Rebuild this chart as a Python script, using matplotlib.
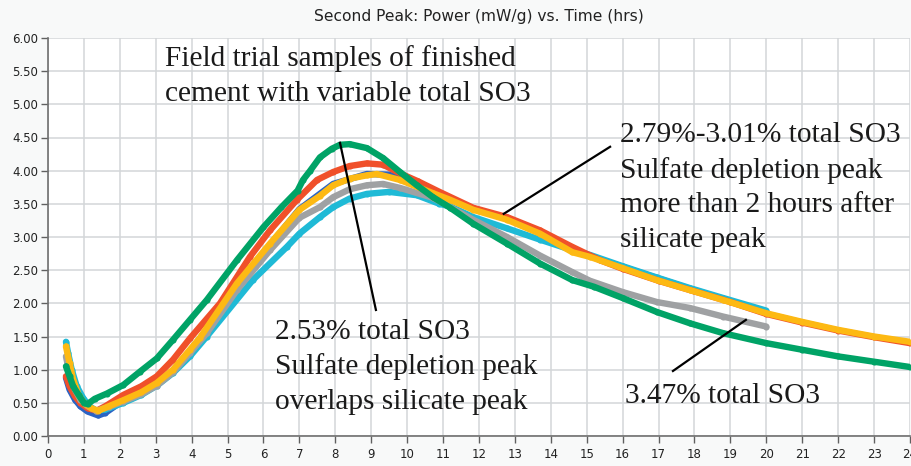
import matplotlib

matplotlib.use("Agg")

import matplotlib.pyplot as plt
import numpy as np

# values (time in hrs, power in mW/g)
green_t = [0.5, 0.6, 0.7, 0.85, 1.0, 1.1, 1.3, 1.64, 2.1, 2.56, 3.03, 3.48, 3.95, 4.42,
           5.26, 6.0, 6.5, 6.95, 7.1, 7.3, 7.57, 7.9, 8.13, 8.4, 8.88, 9.33, 9.8, 10.27,
           10.72, 11.2, 11.84, 12.78, 13.7, 14.6, 15.2, 16.0, 16.95, 17.87, 18.8, 20.0,
           21.0, 22.0, 23.0, 24.0]
green_v = [1.05, 0.9, 0.75, 0.62, 0.5, 0.48, 0.56, 0.64, 0.77, 0.97, 1.17, 1.45, 1.75, 2.05,
           2.65, 3.15, 3.45, 3.7, 3.86, 4.0, 4.2, 4.33, 4.39, 4.40, 4.34, 4.19, 3.98, 3.78,
           3.6, 3.44, 3.2, 2.9, 2.6, 2.35, 2.25, 2.08, 1.87, 1.7, 1.55, 1.4,
           1.3, 1.2, 1.12, 1.04]

red_t = [0.5, 0.6, 0.75, 0.9, 1.1, 1.35, 1.6, 2.1, 2.6, 3.03, 3.48, 3.95, 4.79, 5.62,
         6.18, 6.93, 7.49, 7.94, 8.4, 8.88, 9.33, 9.8, 10.3, 10.9, 11.84, 12.78, 13.7,
         14.6, 15.37, 16.0, 17.0, 18.0, 19.0, 20.0, 21.0, 22.0, 23.0, 24.0]
red_v = [0.9, 0.75, 0.6, 0.5, 0.42, 0.38, 0.45, 0.62, 0.75, 0.9, 1.15, 1.47, 2.0, 2.7,
         3.1, 3.56, 3.86, 3.98, 4.07, 4.11, 4.09, 3.96, 3.84, 3.68, 3.44, 3.3, 3.1,
         2.85, 2.65, 2.52, 2.34, 2.18, 2.02, 1.84, 1.71, 1.59, 1.49, 1.40]

orange_t = [0.5, 0.6, 0.7, 0.85, 1.0, 1.2, 1.4, 1.7, 2.1, 2.6, 3.03, 3.48, 3.95, 4.23,
            5.26, 6.18, 7.0, 7.57, 7.94, 8.4, 8.88, 9.16, 9.8, 10.72, 11.2, 11.84, 12.78,
            13.7, 14.6, 15.09, 16.0, 16.95, 17.87, 18.8, 20.0, 21.0, 22.0, 23.0, 24.0]
orange_v = [1.35, 1.1, 0.85, 0.62, 0.5, 0.42, 0.38, 0.45, 0.54, 0.66, 0.8, 1.0, 1.3, 1.48,
            2.3, 2.9, 3.41, 3.62, 3.78, 3.88, 3.93, 3.95, 3.86, 3.66, 3.56, 3.41, 3.26,
            3.05, 2.77, 2.7, 2.53, 2.35, 2.2, 2.05, 1.85, 1.72, 1.6, 1.5, 1.42]

gray_t = [0.5, 0.6, 0.75, 0.9, 1.1, 1.35, 1.7, 2.1, 2.6, 3.03, 3.48, 3.95, 4.42, 5.26,
          6.18, 7.0, 7.57, 7.94, 8.4, 8.88, 9.33, 9.8, 10.72, 11.84, 12.78, 13.7, 14.6,
          15.09, 16.0, 16.95, 17.87, 18.8, 20.0]
gray_v = [1.2, 0.95, 0.7, 0.55, 0.45, 0.38, 0.44, 0.52, 0.63, 0.76, 0.96, 1.25, 1.55, 2.2,
          2.8, 3.29, 3.45, 3.6, 3.72, 3.78, 3.80, 3.74, 3.59, 3.26, 3.0, 2.72, 2.47,
          2.34, 2.17, 2.02, 1.93, 1.8, 1.65]

cyan_t = [0.5, 0.56, 0.66, 0.8, 0.98, 1.15, 1.35, 1.6, 2.1, 2.6, 3.03, 3.48, 3.95, 4.42,
          5.7, 6.65, 7.0, 7.57, 7.94, 8.4, 8.88, 9.5, 10.27, 10.9, 11.2, 11.84, 12.78,
          13.7, 14.6, 15.09, 16.0, 16.95, 17.87, 18.8, 20.0]
cyan_v = [1.42, 1.25, 1.0, 0.75, 0.57, 0.45, 0.38, 0.4, 0.5, 0.62, 0.76, 0.95, 1.2, 1.5,
          2.35, 2.85, 3.05, 3.3, 3.45, 3.58, 3.65, 3.68, 3.63, 3.5, 3.46, 3.3, 3.13,
          2.96, 2.8, 2.73, 2.56, 2.39, 2.23, 2.08, 1.89]

blue_t = [0.5, 0.6, 0.75, 0.9, 1.1, 1.4, 1.6, 2.0, 2.6, 3.03, 3.48, 3.95, 4.42, 5.26,
          6.18, 7.0, 7.94, 8.88, 9.5, 10.72, 11.84, 12.78, 13.7, 14.6, 16.0, 17.87, 20.0]
blue_v = [0.88, 0.7, 0.55, 0.45, 0.37, 0.31, 0.35, 0.5, 0.64, 0.79, 0.99, 1.28, 1.6, 2.28,
          2.88, 3.42, 3.8, 3.95, 3.94, 3.67, 3.43, 3.28, 3.07, 2.8, 2.55, 2.22, 1.87]

series = [
    (blue_t, blue_v, "#2a63c4"),
    (cyan_t, cyan_v, "#1fbad6"),
    (red_t, red_v, "#f0502a"),
    (gray_t, gray_v, "#9fa1a3"),
    (orange_t, orange_v, "#fdb913"),
    (green_t, green_v, "#00a366"),
]

fig = plt.figure(figsize=(9.12, 4.66), dpi=100, facecolor="#f8f9f9")
ax = fig.add_axes([48 / 912, 30 / 466, 862 / 912, 398 / 466])
ax.set_facecolor("white")

for order, (t, v, color) in enumerate(series):
    ax.plot(t, v, color=color, lw=4.6, marker="o", ms=4.4, mec="none",
            solid_capstyle="round", solid_joinstyle="round", zorder=3 + order)

ax.set_xlim(0, 24)
ax.set_ylim(0, 6)
ax.set_xticks(np.arange(0, 25, 1))
ax.set_yticks(np.arange(0, 6.01, 0.5))
ax.set_yticklabels([f"{y:.2f}" for y in np.arange(0, 6.01, 0.5)])
ax.grid(True, color="#d3d6d9", lw=1.1, zorder=0)
ax.tick_params(labelsize=8.5, length=5, width=1, color="#606060", labelcolor="#222222", pad=2)
ax.tick_params(axis="x", pad=4)
for side in ("top", "right"):
    ax.spines[side].set_visible(False)
for side in ("left", "bottom"):
    ax.spines[side].set_color("#707070")
    ax.spines[side].set_linewidth(1.2)

fig.text(479 / 912, 1 - 17 / 466, "Second Peak: Power (mW/g) vs. Time (hrs)",
         ha="center", va="center", fontsize=11.2, color="#222222")

note = dict(family="Liberation Serif", fontsize=21.2, color="#1a1a1a",
            linespacing=1.42, va="top", ha="left", zorder=20)
ax.text(3.26, 5.89, "Field trial samples of finished\ncement with variable total SO3", **note)
ax.text(15.92, 4.73, "2.79%-3.01% total SO3\nSulfate depletion peak\n"
        "more than 2 hours after\nsilicate peak", **note)
ax.text(6.32, 1.77, "2.53% total SO3\nSulfate depletion peak\noverlaps silicate peak", **note)
ax.text(16.06, 0.80, "3.47% total SO3", **note)

pointers = [
    ((8.13, 4.42), (9.13, 1.90)),
    ((12.69, 3.35), (15.65, 4.36)),
    ((17.4, 0.98), (19.43, 1.75)),
]
for (x0, y0), (x1, y1) in pointers:
    ax.plot([x0, x1], [y0, y1], color="black", lw=1.6, zorder=15)

fig.savefig("out.png", dpi=100, facecolor=fig.get_facecolor())
